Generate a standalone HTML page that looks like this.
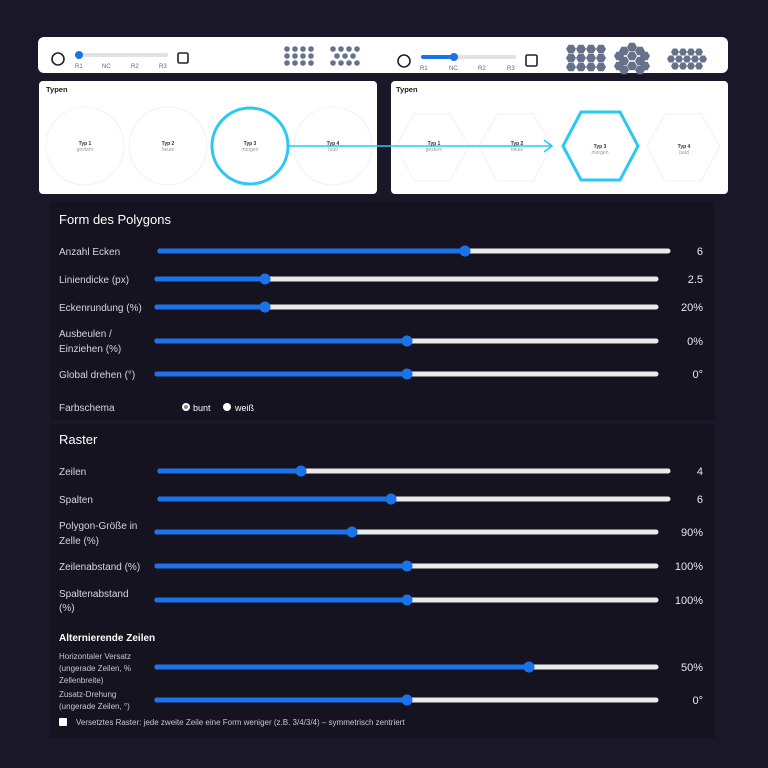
<!DOCTYPE html>
<html><head><meta charset="utf-8"><style>
html,body{margin:0;padding:0;background:#1a1828;}
svg{display:block;font-family:"Liberation Sans",sans-serif;}
</style></head><body>
<svg width="768" height="768" viewBox="0 0 768 768" xmlns="http://www.w3.org/2000/svg">
<defs>
<polygon id="hx" points="5,0 2.5,4.3 -2.5,4.3 -5,0 -2.5,-4.3 2.5,-4.3" fill="#65728a"/>
<polygon id="hs" points="4,0 2,3.5 -2,3.5 -4,0 -2,-3.5 2,-3.5" fill="#65728a"/>
</defs>
<rect width="768" height="768" fill="#1a1828"/>
<!-- top bar -->
<rect x="38" y="37" width="690" height="36" rx="6" fill="#fff"/>
<circle cx="58" cy="59" r="6" fill="none" stroke="#222" stroke-width="1.6"/>
<rect x="78" y="53" width="90" height="4" rx="2" fill="#e2e2e2"/>
<circle cx="79" cy="55" r="4" fill="#1a73e8"/>
<g font-size="6" fill="#666"><text x="75" y="68">R1</text><text x="102" y="68">NC</text><text x="131" y="68">R2</text><text x="159" y="68">R3</text></g>
<rect x="178" y="53" width="10" height="10" rx="1.5" fill="none" stroke="#222" stroke-width="1.6"/>
<g fill="#65728a">
<circle cx="287" cy="49" r="2.8"/><circle cx="295" cy="49" r="2.8"/><circle cx="303" cy="49" r="2.8"/><circle cx="311" cy="49" r="2.8"/>
<circle cx="287" cy="56" r="2.8"/><circle cx="295" cy="56" r="2.8"/><circle cx="303" cy="56" r="2.8"/><circle cx="311" cy="56" r="2.8"/>
<circle cx="287" cy="63" r="2.8"/><circle cx="295" cy="63" r="2.8"/><circle cx="303" cy="63" r="2.8"/><circle cx="311" cy="63" r="2.8"/>
<circle cx="333" cy="49" r="2.8"/><circle cx="341" cy="49" r="2.8"/><circle cx="349" cy="49" r="2.8"/><circle cx="357" cy="49" r="2.8"/>
<circle cx="337" cy="56" r="2.8"/><circle cx="345" cy="56" r="2.8"/><circle cx="353" cy="56" r="2.8"/>
<circle cx="333" cy="63" r="2.8"/><circle cx="341" cy="63" r="2.8"/><circle cx="349" cy="63" r="2.8"/><circle cx="357" cy="63" r="2.8"/>
</g>
<circle cx="404" cy="61" r="6" fill="none" stroke="#222" stroke-width="1.6"/>
<rect x="421" y="55" width="95" height="4" rx="2" fill="#e2e2e2"/>
<rect x="421" y="55" width="34" height="4" rx="2" fill="#1a73e8"/>
<circle cx="454" cy="57" r="4" fill="#1a73e8"/>
<g font-size="6" fill="#666"><text x="420" y="70">R1</text><text x="449" y="70">NC</text><text x="478" y="70">R2</text><text x="507" y="70">R3</text></g>
<rect x="526" y="55" width="11" height="11" rx="1.5" fill="none" stroke="#222" stroke-width="1.6"/>
<g>
<use href="#hx" x="571" y="49"/><use href="#hx" x="581" y="49"/><use href="#hx" x="591" y="49"/><use href="#hx" x="601" y="49"/>
<use href="#hx" x="571" y="58"/><use href="#hx" x="581" y="58"/><use href="#hx" x="591" y="58"/><use href="#hx" x="601" y="58"/>
<use href="#hx" x="571" y="67"/><use href="#hx" x="581" y="67"/><use href="#hx" x="591" y="67"/><use href="#hx" x="601" y="67"/>
<use href="#hx" x="624" y="51"/><use href="#hx" x="640" y="51"/>
<use href="#hx" x="619" y="56"/><use href="#hx" x="632" y="56"/><use href="#hx" x="645" y="56"/>
<use href="#hx" x="624" y="61"/><use href="#hx" x="640" y="61"/>
<use href="#hx" x="619" y="66"/><use href="#hx" x="632" y="66"/><use href="#hx" x="645" y="66"/>
<use href="#hx" x="632" y="47"/><use href="#hx" x="624" y="70"/><use href="#hx" x="640" y="70"/>
<use href="#hs" x="675" y="52"/><use href="#hs" x="683" y="52"/><use href="#hs" x="691" y="52"/><use href="#hs" x="699" y="52"/>
<use href="#hs" x="671" y="59"/><use href="#hs" x="679" y="59"/><use href="#hs" x="687" y="59"/><use href="#hs" x="695" y="59"/><use href="#hs" x="703" y="59"/>
<use href="#hs" x="675" y="66"/><use href="#hs" x="683" y="66"/><use href="#hs" x="691" y="66"/><use href="#hs" x="699" y="66"/>
</g>
<!-- Typen cards -->
<rect x="39" y="81" width="338" height="113" rx="4" fill="#fff"/>
<rect x="391" y="81" width="337" height="113" rx="4" fill="#fff"/>
<text x="46" y="92" font-size="7.5" font-weight="bold" fill="#222">Typen</text>
<text x="396" y="92" font-size="7.5" font-weight="bold" fill="#222">Typen</text>
<g fill="none" stroke="#eee" stroke-width="0.8">
<circle cx="85" cy="146" r="39"/><circle cx="168" cy="146" r="39"/><circle cx="333" cy="146" r="39"/>
<polygon points="414,114 450,114 469,146 450,181 414,181 396,146"/>
<polygon points="497,114 533,114 552,146 533,181 497,181 479,146"/>
<polygon points="665,114 701,114 720,146 701,181 665,181 647,146"/>
</g>
<circle cx="250" cy="146" r="38" fill="none" stroke="#2ac8f2" stroke-width="3"/>
<polygon points="581,112 620,112 638,146 620,180 581,180 563,146" fill="none" stroke="#2ac8f2" stroke-width="3"/>
<line x1="289" y1="146" x2="551" y2="146" stroke="#2ac8f2" stroke-width="1.6"/>
<polyline points="544,140 552,146 544,152" fill="none" stroke="#2ac8f2" stroke-width="1.6"/>
<g font-size="5" text-anchor="middle">
<text x="85" y="145" font-weight="bold" fill="#333">Typ 1</text><text x="85" y="151" fill="#999">gestern</text>
<text x="168" y="145" font-weight="bold" fill="#333">Typ 2</text><text x="168" y="151" fill="#999">heute</text>
<text x="250" y="145" font-weight="bold" fill="#333">Typ 3</text><text x="250" y="151" fill="#999">morgen</text>
<text x="333" y="145" font-weight="bold" fill="#333">Typ 4</text><text x="333" y="151" fill="#999">bald</text>
<text x="434" y="145" font-weight="bold" fill="#333">Typ 1</text><text x="434" y="151" fill="#999">gestern</text>
<text x="517" y="145" font-weight="bold" fill="#333">Typ 2</text><text x="517" y="151" fill="#999">heute</text>
<text x="600" y="148" font-weight="bold" fill="#333">Typ 3</text><text x="600" y="154" fill="#999">morgen</text>
<text x="684" y="148" font-weight="bold" fill="#333">Typ 4</text><text x="684" y="154" fill="#999">bald</text>
</g>
<!-- panels -->
<rect x="50" y="201" width="665" height="219" fill="#14131f"/>
<rect x="50" y="424" width="665" height="314" fill="#14131f"/>
<g fill="#fff">
<text x="59" y="224" font-size="13">Form des Polygons</text>
<text x="59" y="444" font-size="13">Raster</text>
<text x="59" y="641" font-size="10" font-weight="bold">Alternierende Zeilen</text>
</g>
<g font-size="10" fill="#d6d6de">
<text x="59" y="255">Anzahl Ecken</text>
<text x="59" y="283">Liniendicke (px)</text>
<text x="59" y="311">Eckenrundung (%)</text>
<text x="59" y="337">Ausbeulen /</text><text x="59" y="352">Einziehen (%)</text>
<text x="59" y="378">Global drehen (°)</text>
<text x="59" y="411">Farbschema</text>
<text x="59" y="475">Zeilen</text>
<text x="59" y="503">Spalten</text>
<text x="59" y="529">Polygon-Größe in</text><text x="59" y="544">Zelle (%)</text>
<text x="59" y="570">Zeilenabstand (%)</text>
<text x="59" y="597">Spaltenabstand</text><text x="59" y="611">(%)</text>
</g>
<g font-size="8" fill="#c8c8d0">
<text x="59" y="659">Horizontaler Versatz</text><text x="59" y="671">(ungerade Zeilen, %</text><text x="59" y="683">Zellenbreite)</text>
<text x="59" y="697">Zusatz-Drehung</text><text x="59" y="709">(ungerade Zeilen, °)</text>
<text x="76" y="725">Versetztes Raster: jede zweite Zeile eine Form weniger (z.B. 3/4/3/4) – symmetrisch zentriert</text>
</g>
<rect x="59" y="718" width="8" height="8" rx="1" fill="#fff"/>
<circle cx="186" cy="407" r="4" fill="#fff"/><circle cx="186" cy="407" r="2" fill="#888"/>
<circle cx="227" cy="407" r="4" fill="#fff"/>
<text x="193" y="411" font-size="9" fill="#fff">bunt</text>
<text x="235" y="411" font-size="9" fill="#fff">weiß</text>
<!-- sliders -->
<g stroke-linecap="round" stroke-width="5">
<line x1="160" y1="251" x2="668" y2="251" stroke="#eaeaea"/><line x1="160" y1="251" x2="465" y2="251" stroke="#1a73e8"/>
<line x1="157" y1="279" x2="656" y2="279" stroke="#eaeaea"/><line x1="157" y1="279" x2="265" y2="279" stroke="#1a73e8"/>
<line x1="157" y1="307" x2="656" y2="307" stroke="#eaeaea"/><line x1="157" y1="307" x2="265" y2="307" stroke="#1a73e8"/>
<line x1="157" y1="341" x2="656" y2="341" stroke="#eaeaea"/><line x1="157" y1="341" x2="407" y2="341" stroke="#1a73e8"/>
<line x1="157" y1="374" x2="656" y2="374" stroke="#eaeaea"/><line x1="157" y1="374" x2="407" y2="374" stroke="#1a73e8"/>
<line x1="160" y1="471" x2="668" y2="471" stroke="#eaeaea"/><line x1="160" y1="471" x2="301" y2="471" stroke="#1a73e8"/>
<line x1="160" y1="499" x2="668" y2="499" stroke="#eaeaea"/><line x1="160" y1="499" x2="391" y2="499" stroke="#1a73e8"/>
<line x1="157" y1="532" x2="656" y2="532" stroke="#eaeaea"/><line x1="157" y1="532" x2="352" y2="532" stroke="#1a73e8"/>
<line x1="157" y1="566" x2="656" y2="566" stroke="#eaeaea"/><line x1="157" y1="566" x2="407" y2="566" stroke="#1a73e8"/>
<line x1="157" y1="600" x2="656" y2="600" stroke="#eaeaea"/><line x1="157" y1="600" x2="407" y2="600" stroke="#1a73e8"/>
<line x1="157" y1="667" x2="656" y2="667" stroke="#eaeaea"/><line x1="157" y1="667" x2="529" y2="667" stroke="#1a73e8"/>
<line x1="157" y1="700" x2="656" y2="700" stroke="#eaeaea"/><line x1="157" y1="700" x2="407" y2="700" stroke="#1a73e8"/>
</g>
<g fill="#1a73e8">
<circle cx="465" cy="251" r="5.5"/><circle cx="265" cy="279" r="5.5"/><circle cx="265" cy="307" r="5.5"/>
<circle cx="407" cy="341" r="5.5"/><circle cx="407" cy="374" r="5.5"/>
<circle cx="301" cy="471" r="5.5"/><circle cx="391" cy="499" r="5.5"/><circle cx="352" cy="532" r="5.5"/>
<circle cx="407" cy="566" r="5.5"/><circle cx="407" cy="600" r="5.5"/><circle cx="529" cy="667" r="5.5"/><circle cx="407" cy="700" r="5.5"/>
</g>
<g font-size="11" fill="#e8e8ee" text-anchor="end">
<text x="703" y="255">6</text><text x="703" y="283">2.5</text><text x="703" y="311">20%</text>
<text x="703" y="345">0%</text><text x="703" y="378">0°</text>
<text x="703" y="475">4</text><text x="703" y="503">6</text><text x="703" y="536">90%</text>
<text x="703" y="570">100%</text><text x="703" y="604">100%</text><text x="703" y="671">50%</text><text x="703" y="704">0°</text>
</g>
</svg>
</body></html>
